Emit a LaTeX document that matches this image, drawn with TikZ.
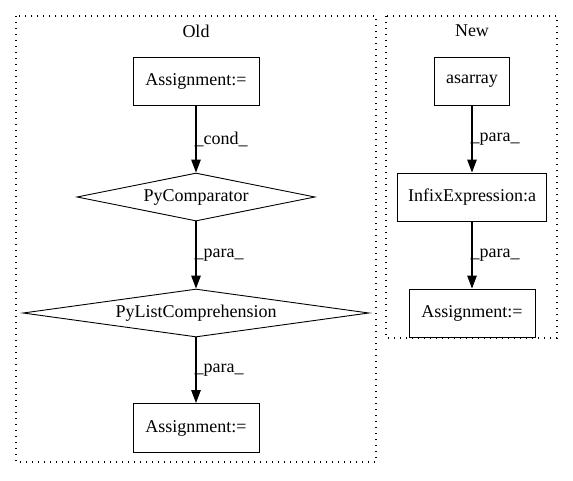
\documentclass[tikz,border=0pt]{standalone}
\usepackage{fontspec}
\setmainfont{Liberation Serif}
\usetikzlibrary{shapes.geometric,arrows.meta}
\begin{document}
\begin{tikzpicture}[x=1pt,y=-1pt,
  font=\fontsize{18pt}{21pt}\selectfont,
  box/.style={draw,rectangle,line width=0.9pt,inner sep=0pt},
  dia/.style={draw,diamond,line width=0.9pt,inner sep=0pt},
  cluster/.style={draw,line width=1.3pt,dash pattern=on 1.3pt off 4.7pt},
  edge/.style={draw,line width=1.2pt,-{Triangle[length=13pt,width=9.5pt]}},
  lbl/.style={font=\fontsize{18pt}{21pt}\selectfont,inner sep=1pt}]
\useasboundingbox (0,0) rectangle (573,480);
% clusters
\draw[cluster] (16,16) rectangle (376,462);
\draw[cluster] (386,16) rectangle (557,338);
\node (oldlbl) at (196,31) {Old};
\node (newlbl) at (472,31) {New};
% old nodes
\node[box,minimum width=126pt,minimum height=48pt] (a1) at (196,81) {Assignment:=};
\node[dia,minimum width=238pt,minimum height=48pt,aspect=5] (pc) at (196,197) {PyComparator};
\node[dia,minimum width=346pt,minimum height=48pt,aspect=7] (plc) at (196,313) {PyListComprehension};
\node[box,minimum width=126pt,minimum height=49pt] (a2) at (196,428) {Assignment:=};
% new nodes
\node[box,minimum width=75pt,minimum height=48pt] (as) at (472,81) {asarray};
\node[box,minimum width=149pt,minimum height=48pt] (inf) at (472,197) {InfixExpression:a};
\node[box,minimum width=126pt,minimum height=48pt] (a3) at (472,313) {Assignment:=};
% edges
\draw[edge] (a1) -- node[lbl,right,xshift=-3pt] {\_cond\_} (pc);
\draw[edge] (pc) -- node[lbl,right,xshift=-3pt] {\_para\_} (plc);
\draw[edge] (plc) -- node[lbl,right,xshift=-3pt] {\_para\_} (a2);
\draw[edge] (as) -- node[lbl,right,xshift=-3pt] {\_para\_} (inf);
\draw[edge] (inf) -- node[lbl,right,xshift=-3pt] {\_para\_} (a3);
\end{tikzpicture}
\end{document}
